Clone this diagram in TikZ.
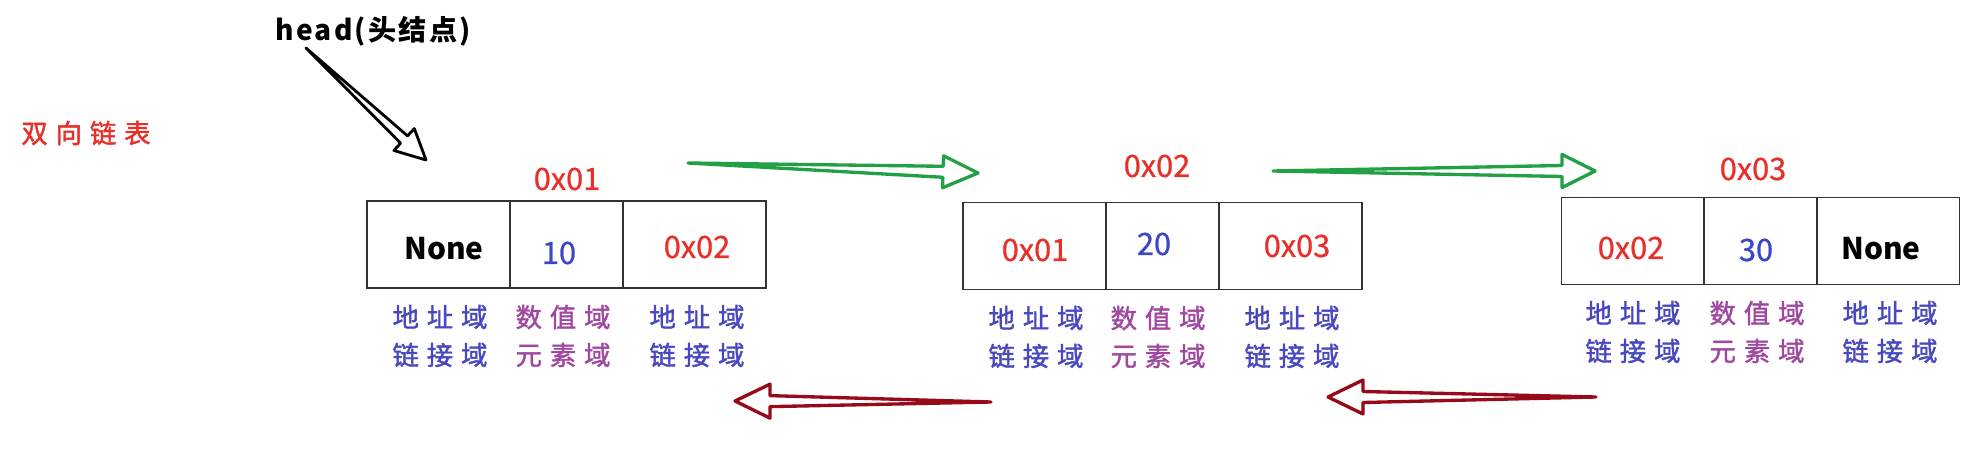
\documentclass[tikz,border=0pt]{standalone}
\usepackage{fontspec}
\setmainfont{Noto Sans CJK SC}
\newfontfamily\cjk[LetterSpace=30,FakeBold=1.5]{Noto Sans CJK SC}
\newfontfamily\valfont[FakeBold=0.8]{Noto Sans CJK SC}
\newfontfamily\headfont[LetterSpace=8]{Noto Sans CJK SC}
\usetikzlibrary{calc}
\definecolor{addrred}{RGB}{232,48,42}
\definecolor{valblue}{RGB}{60,70,200}
\definecolor{lblblue}{RGB}{72,72,192}
\definecolor{lblpurple}{RGB}{160,72,160}
\definecolor{arrgreen}{RGB}{34,160,70}
\definecolor{arrred}{RGB}{150,10,25}
\definecolor{boxline}{RGB}{50,50,50}
\newcommand{\blockarrow}[6]{%
  \coordinate (ab) at ($(#3)!#4!(#2)$);
  \draw[#1] (#2) -- ($(ab)!#6!90:(#3)$) -- ($(ab)!#5!90:(#3)$) -- (#3)
    -- ($(ab)!#5!-90:(#3)$) -- ($(ab)!#6!-90:(#3)$) -- cycle;
}
\tikzset{
  cell/.style={draw=boxline, line width=0.9pt, rectangle, inner sep=0pt, minimum height=1.74cm},
  wide/.style={cell, minimum width=2.86cm},
  narrow/.style={cell, minimum width=2.26cm},
  addr/.style={text=addrred, font=\valfont\fontsize{17.5}{20}\selectfont, inner sep=0pt},
  val/.style={text=valblue, font=\valfont\fontsize{17.5}{20}\selectfont, inner sep=0pt},
  none/.style={text=black, font=\fontsize{17}{20}\selectfont\bfseries, inner sep=0pt},
  lblb/.style={text=lblblue, font=\cjk\fontsize{15}{21.6}\selectfont, align=center, inner sep=0pt},
  lblp/.style={text=lblpurple, font=\cjk\fontsize{15}{21.6}\selectfont, align=center, inner sep=0pt},
  garrow/.style={draw=arrgreen, line width=1.9pt, line join=round, line cap=round},
  rarrow/.style={draw=arrred, line width=1.9pt, line join=round, line cap=round},
  karrow/.style={draw=black, line width=1.6pt, line join=round, line cap=round},
}
\begin{document}
\begin{tikzpicture}[x=0.02cm, y=-0.02cm]
\fill[white] (0,0) rectangle (1986,449);
\useasboundingbox (0,0) rectangle (1986,449);

% title and head
\node[text=addrred, font=\cjk\fontsize{15}{18}\selectfont, inner sep=0pt] (title) at (86,133) {双向链表};
\node[font=\headfont\fontsize{16}{18}\selectfont\bfseries, inner sep=0pt] (head) at (373,31) {head(头结点)};

% node 1
\node[wide] (a1) at (438.5,244.5) {};
\node[narrow] (a2) at (566.5,244.5) {};
\node[wide] (a3) at (694.5,244.5) {};
\node[addr] (a0) at (567,179) {0x01};
\node[none] (a1t) at (444,249) {None};
\node[val] (a2t) at (559,253) {10};
\node[addr] (a3t) at (697,247) {0x02};
\node[lblb] (a1l) at (440,336) {地址域\\链接域};
\node[lblp] (a2l) at (563,336) {数值域\\元素域};
\node[lblb] (a3l) at (697,336) {地址域\\链接域};

% node 2
\node[wide] (b1) at (1034.5,246) {};
\node[narrow] (b2) at (1162.5,246) {};
\node[wide] (b3) at (1290.5,246) {};
\node[addr] (b0) at (1157,166) {0x02};
\node[addr] (b1t) at (1035,250) {0x01};
\node[val] (b2t) at (1154,244) {20};
\node[addr] (b3t) at (1297,246) {0x03};
\node[lblb] (b1l) at (1036,337) {地址域\\链接域};
\node[lblp] (b2l) at (1158,337) {数值域\\元素域};
\node[lblb] (b3l) at (1292,337) {地址域\\链接域};

% node 3
\node[wide] (c1) at (1633,241) {};
\node[narrow] (c2) at (1760.5,241) {};
\node[wide] (c3) at (1888,241) {};
\node[addr] (c0) at (1753,169) {0x03};
\node[addr] (c1t) at (1631,248) {0x02};
\node[val] (c2t) at (1756,250) {30};
\node[none] (c3t) at (1881,249) {None};
\node[lblb] (c1l) at (1633,332) {地址域\\链接域};
\node[lblp] (c2l) at (1757,332) {数值域\\元素域};
\node[lblb] (c3l) at (1890,332) {地址域\\链接域};

% arrow end points
\coordinate (hs) at (306,48);
\coordinate (ht) at (426,160);
\coordinate (g1s) at (688,163);
\coordinate (g1t) at (978,173);
\coordinate (g2s) at (1273,171);
\coordinate (g2t) at (1595,171);
\coordinate (r1s) at (991,402);
\coordinate (r1t) at (735,401);
\coordinate (r2s) at (1596,397);
\coordinate (r2t) at (1328,397);

\blockarrow{karrow}{hs}{ht}{0.6cm}{0.3cm}{0.1cm}
\blockarrow{garrow}{g1s}{g1t}{0.7cm}{0.32cm}{0.11cm}
\blockarrow{garrow}{g2s}{g2t}{0.66cm}{0.33cm}{0.11cm}
\blockarrow{rarrow}{r1s}{r1t}{0.7cm}{0.34cm}{0.11cm}
\blockarrow{rarrow}{r2s}{r2t}{0.7cm}{0.34cm}{0.11cm}
\end{tikzpicture}
\end{document}
